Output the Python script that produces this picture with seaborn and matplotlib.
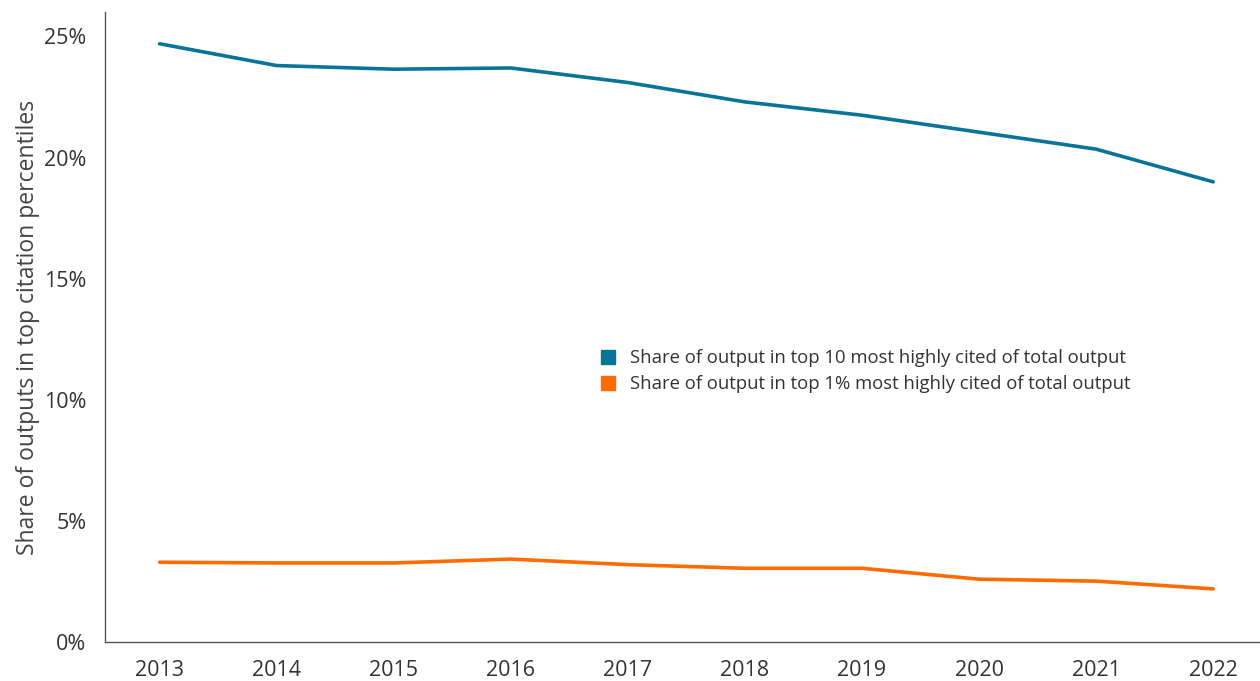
import pandas as pd
import seaborn as sns
import matplotlib.pyplot as plt
from matplotlib.lines import Line2D
from matplotlib.ticker import FuncFormatter

years = [2013, 2014, 2015, 2016, 2017, 2018, 2019, 2020, 2021, 2022]
top10 = [24.7, 23.8, 23.65, 23.7, 23.1, 22.3, 21.75, 21.05, 20.35, 19.0]
top1 = [3.3, 3.27, 3.27, 3.43, 3.2, 3.05, 3.05, 2.6, 2.52, 2.2]
series = ['Share of output in top 10 most highly cited of total output',
          'Share of output in top 1% most highly cited of total output']
colors = ['#0a7398', '#ff6b00']

df = pd.DataFrame({
    'year': years * 2,
    'share': top10 + top1,
    'series': [series[0]] * len(years) + [series[1]] * len(years),
})

sns.set_style('white')
plt.rcParams['font.family'] = ['Open Sans', 'DejaVu Sans']

fig = plt.figure(figsize=(12.6, 6.81), dpi=100)
ax = fig.add_axes([0.083, 0.057, 0.917, 0.925])

sns.lineplot(data=df, x='year', y='share', hue='series', palette=colors,
             linewidth=2.6, legend=False, ax=ax)

ax.set_xlim(2012.53, 2022.4)
ax.set_ylim(0, 26.0)
ax.set_xticks(years)
ax.set_yticks([0, 5, 10, 15, 20, 25])
ax.yaxis.set_major_formatter(FuncFormatter(lambda v, p: f'{v:.0f}%'))
ax.tick_params(axis='both', colors='#dddddd', length=5, width=0.8,
               labelcolor='#333333', labelsize=15.5, pad=8)
ax.set_xlabel('')
ax.set_ylabel('Share of outputs in top citation percentiles', fontsize=16.5,
              color='#444444', labelpad=3)

for side in ['top', 'right']:
    ax.spines[side].set_visible(False)
for side in ['left', 'bottom']:
    ax.spines[side].set_color('#555555')
    ax.spines[side].set_linewidth(1.0)

handles = [Line2D([], [], marker='s', linestyle='', markersize=10,
                  markerfacecolor=c, markeredgecolor=c) for c in colors]
ax.legend(handles, series, loc='center left', bbox_to_anchor=(0.405, 0.43),
          frameon=False, fontsize=13.3, handletextpad=0.2, labelspacing=0.45,
          labelcolor='#333333')

plt.savefig('out.png', dpi=100)
